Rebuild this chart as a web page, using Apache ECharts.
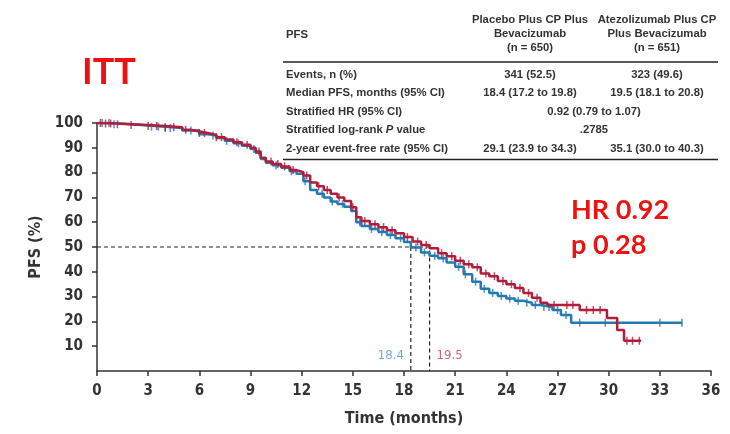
<!DOCTYPE html>
<html>
<head>
<meta charset="utf-8">
<script src="https://cdn.jsdelivr.net/npm/echarts@6/dist/echarts.min.js"></script>
<style>
  html, body { margin: 0; padding: 0; background: #fff; }
  #main { width: 730px; height: 434px; }
</style>
</head>
<body>
<div id="main"></div>
<script>
// KM curves [month, PFS %]
const placeboCurve = [
  [0, 100], [1, 99.5], [2, 99], [3, 98.5], [4, 98], [5, 97], [6, 95.5], [6.5, 95], [7, 94],
  [7.5, 92.8], [8, 91.8], [8.5, 90.8], [9, 89.5], [9.3, 88], [9.6, 85.5], [9.9, 84], [10.3, 83],
  [10.8, 82], [11.3, 80.5], [11.7, 79.5], [12.1, 76.5], [12.5, 73], [12.9, 71.5], [13.3, 70],
  [13.7, 68.3], [14.1, 67.3], [14.5, 66.2], [14.9, 64.5], [15.2, 60], [15.5, 58.5], [16, 57.3],
  [16.5, 56], [17, 54.8], [17.5, 53.5], [18, 52], [18.4, 49.8], [19, 47.8], [19.5, 46.5],
  [20, 45.5], [20.5, 43.8], [21, 42], [21.5, 39], [22, 36], [22.5, 33.2], [23, 31.5],
  [23.5, 30.2], [24, 29.2], [24.5, 28.3], [25, 27.5], [25.5, 26.6], [26, 25.8], [26.7, 24.6],
  [27.2, 22.6], [27.8, 19.5], [34.3, 19.5]
];
const atezoCurve = [
  [0, 100], [0.5, 99.8], [1, 99.5], [2, 99.2], [3, 98.8], [4, 98.3], [5, 97.3], [5.5, 96.6],
  [6, 96], [6.5, 95.2], [7, 94.3], [7.5, 93.3], [8, 92.2], [8.5, 91.2], [9, 90], [9.3, 88.5],
  [9.6, 86], [9.9, 84.5], [10.3, 83.5], [10.8, 82.5], [11.3, 81], [11.7, 80.2], [12.1, 78.8],
  [12.5, 76], [12.9, 74.5], [13.3, 73], [13.7, 71.5], [14.1, 70], [14.5, 68.5], [14.9, 66],
  [15.2, 62], [15.5, 60.5], [16, 59.2], [16.5, 58], [17, 56.8], [17.5, 55.5], [18, 54],
  [18.5, 52.2], [19, 50.8], [19.5, 49.5], [20, 47.5], [20.5, 46.3], [21, 44.5], [21.5, 43],
  [22, 41.8], [22.5, 39.3], [23, 38.2], [23.5, 36.3], [24, 35], [24.5, 33.5], [25, 31.5],
  [25.5, 29.5], [26, 27.5], [26.4, 26.6], [28.3, 24.6], [29.9, 21.4], [30.5, 16.5],
  [30.9, 12.2], [31.9, 12.2]
];
// censoring times (months)
const placeboCensor = [0.3, 0.7, 1.0, 3.2, 3.6, 4.0, 4.3, 5.5, 6.8, 7.6, 8.3, 9.2, 10.5, 11.4,
  12.2, 13.2, 13.8, 14.4, 15.4, 16.1, 16.7, 17.2, 17.8, 18.7, 19.2, 19.8, 20.3, 21.2, 21.6,
  22.2, 22.7, 23.2, 23.7, 24.2, 24.7, 25.2, 25.7, 26.2, 26.5, 27.0, 27.5, 28.3, 29.8, 33.0, 34.3];
const atezoCensor = [0.2, 0.5, 0.8, 1.2, 2.0, 3.0, 3.5, 4.0, 4.5, 5.2, 6.0, 6.3, 7.0, 7.3, 8.2,
  8.8, 9.5, 10.2, 10.6, 11.0, 11.5, 12.3, 13.0, 13.5, 14.2, 15.0, 15.7, 16.3, 16.8, 17.3, 18.2,
  18.8, 19.3, 20.2, 20.8, 21.3, 21.8, 22.3, 22.8, 23.3, 23.8, 24.3, 24.8, 25.3, 25.8, 26.8,
  27.55, 27.9, 28.7, 29.1, 29.5, 31.07, 31.4, 31.8];
const medianTimes = [18.4, 19.5];
const medianLabels = ['18.4', '19.5'];

// table
const headerPlacebo = ['Placebo Plus CP Plus', 'Bevacizumab', '(n = 650)'];
const headerAtezo = ['Atezolizumab Plus CP', 'Plus Bevacizumab', '(n = 651)'];
const rowLabels = ['Events, n (%)', 'Median PFS, months (95% CI)', 'Stratified HR (95% CI)',
  'Stratified log-rank {i|P} value', '2-year event-free rate (95% CI)'];
const placeboVals = ['341 (52.5)', '18.4 (17.2 to 19.8)', null, null, '29.1 (23.9 to 34.3)'];
const atezoVals = ['323 (49.6)', '19.5 (18.1 to 20.8)', null, null, '35.1 (30.0 to 40.3)'];
const pooledVals = [null, null, '0.92 (0.79 to 1.07)', '.2785', null];

const BLUE = '#2479b0';
const RED = '#b01e3c';
const TXT = '#333';
const FONT = "'Liberation Sans Narrow', 'DejaVu Sans Condensed', 'Liberation Sans', sans-serif";
const TFONT = "'Liberation Sans', Arial, sans-serif";
const TSTYLE = '600 11.3px ' + TFONT;

function survAt(curve, t) {
  let v = curve[0][1];
  for (const p of curve) {
    if (p[0] <= t) v = p[1]; else break;
  }
  return v;
}

const chart = echarts.init(document.getElementById('main'));

// table graphic
const graphics = [];
const tx = 286, c1 = 530, c2 = 657, cm = 594;
const rowY = [75, 93, 111.5, 130, 149];
graphics.push({ type: 'text', x: tx, y: 35, style: { text: 'PFS', font: TSTYLE, fill: TXT, verticalAlign: 'middle' } });
headerPlacebo.forEach((t, i) => {
  graphics.push({ type: 'text', x: c1, y: 20 + i * 14, style: { text: t, font: TSTYLE, fill: TXT, align: 'center', verticalAlign: 'middle' } });
});
headerAtezo.forEach((t, i) => {
  graphics.push({ type: 'text', x: c2, y: 20 + i * 14, style: { text: t, font: TSTYLE, fill: TXT, align: 'center', verticalAlign: 'middle' } });
});
graphics.push({ type: 'line', shape: { x1: 283, y1: 62, x2: 718, y2: 62 }, style: { stroke: '#222', lineWidth: 1.6 } });
graphics.push({ type: 'line', shape: { x1: 283, y1: 159.5, x2: 718, y2: 159.5 }, style: { stroke: '#222', lineWidth: 1.3 } });
rowLabels.forEach((t, i) => {
  graphics.push({ type: 'text', x: tx, y: rowY[i], style: {
    text: t, font: TSTYLE, fill: TXT, verticalAlign: 'middle',
    rich: { i: { fontStyle: 'italic', fontWeight: 600, fontSize: 11.3, fontFamily: TFONT, fill: TXT } }
  } });
  [[placeboVals, c1], [atezoVals, c2], [pooledVals, cm]].forEach(([arr, cx]) => {
    if (arr[i] != null) {
      graphics.push({ type: 'text', x: cx, y: rowY[i], style: { text: arr[i], font: TSTYLE, fill: TXT, align: 'center', verticalAlign: 'middle' } });
    }
  });
});
// annotations
graphics.push({ type: 'text', x: 82, y: 72, style: { text: 'ITT', font: 'bold 36px Lato, sans-serif', fill: '#ee1111', verticalAlign: 'middle' } });
graphics.push({ type: 'text', x: 571, y: 210, style: { text: 'HR 0.92', font: 'bold 27px Lato, sans-serif', fill: '#ee1111', verticalAlign: 'middle' } });
graphics.push({ type: 'text', x: 571, y: 245, style: { text: 'p 0.28', font: 'bold 27px Lato, sans-serif', fill: '#ee1111', verticalAlign: 'middle' } });

const dashStyle = { color: '#222', width: 1.2, type: [4, 3] };

chart.setOption({
  animation: false,
  graphic: graphics,
  grid: { left: 97, right: 19, top: 123, bottom: 63 },
  xAxis: {
    type: 'value', min: 0, max: 36, interval: 3,
    name: 'Time (months)', nameLocation: 'middle', nameGap: 40,
    nameTextStyle: { fontFamily: FONT, fontSize: 16, fontWeight: 'bold', color: TXT },
    axisLine: { lineStyle: { color: '#333', width: 1.5 } },
    axisTick: { length: 5, lineStyle: { color: '#333', width: 1.5 } },
    axisLabel: { fontFamily: FONT, fontSize: 15, fontWeight: 'bold', color: TXT, margin: 13 },
    splitLine: { show: false }
  },
  yAxis: {
    type: 'value', min: 0, max: 100, interval: 10,
    name: 'PFS (%)', nameLocation: 'middle', nameGap: 50, nameRotate: 90,
    nameTextStyle: { fontFamily: FONT, fontSize: 16, fontWeight: 'bold', color: TXT },
    axisLine: { show: true, lineStyle: { color: '#333', width: 1.5 } },
    axisTick: { show: true, length: 5, lineStyle: { color: '#333', width: 1.5 } },
    axisLabel: { fontFamily: FONT, fontSize: 15, fontWeight: 'bold', color: TXT, margin: 14, showMinLabel: false },
    splitLine: { show: false }
  },
  series: [
    {
      type: 'line', data: [[0, 50], [medianTimes[1], 50], [medianTimes[1], 0]],
      symbol: 'none', lineStyle: dashStyle, silent: true, z: 1
    },
    {
      type: 'line', data: [[medianTimes[0], 50], [medianTimes[0], 0]],
      symbol: 'none', lineStyle: dashStyle, silent: true, z: 1
    },
    {
      name: 'Placebo', type: 'line', step: 'end', data: placeboCurve, symbol: 'none',
      lineStyle: { color: BLUE, width: 2.5 }, z: 2
    },
    {
      type: 'scatter', data: placeboCensor.map(t => [t, survAt(placeboCurve, t)]),
      symbol: 'rect', symbolSize: [1.5, 8], itemStyle: { color: BLUE }, z: 2
    },
    {
      name: 'Atezolizumab', type: 'line', step: 'end', data: atezoCurve, symbol: 'none',
      lineStyle: { color: RED, width: 2.5 }, z: 3
    },
    {
      type: 'scatter', data: atezoCensor.map(t => [t, survAt(atezoCurve, t)]),
      symbol: 'rect', symbolSize: [1.5, 8], itemStyle: { color: RED }, z: 3
    },
    {
      type: 'scatter', symbolSize: 0, z: 4,
      data: [
        { value: [medianTimes[0], 6], label: { show: true, position: 'left', distance: 7, formatter: medianLabels[0], color: '#4b98cf' } },
        { value: [medianTimes[1], 6], label: { show: true, position: 'right', distance: 7, formatter: medianLabels[1], color: '#c0405c' } }
      ],
      label: { fontFamily: FONT, fontSize: 13 }
    }
  ]
});
</script>
</body>
</html>
